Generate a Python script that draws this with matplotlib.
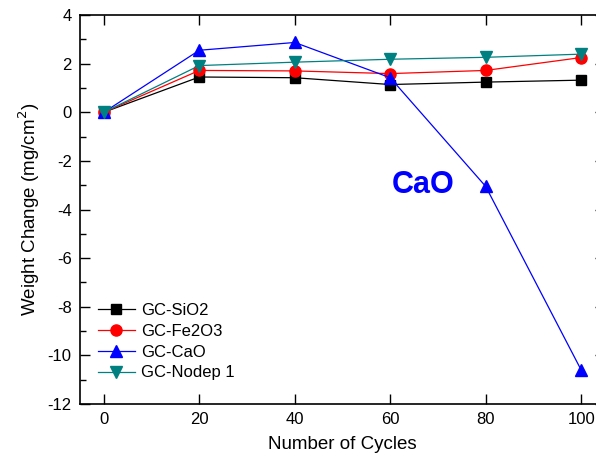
import numpy as np
import matplotlib
matplotlib.use('Agg')
import matplotlib.pyplot as plt
from matplotlib.ticker import MultipleLocator

plt.rcParams['font.family'] = ['Liberation Sans', 'DejaVu Sans']
plt.rcParams['axes.unicode_minus'] = False

# cycles and weight change (mg/cm2)
cycles = [0, 20, 40, 60, 80, 100]
sio2 = [0.0, 1.45, 1.42, 1.14, 1.24, 1.32]
fe2o3 = [0.0, 1.72, 1.70, 1.59, 1.72, 2.25]
cao = [0.0, 2.55, 2.87, 1.42, -3.05, -10.6]
nodep = [0.0, 1.92, 2.06, 2.18, 2.26, 2.39]

fig = plt.figure(figsize=(5.96, 4.57), dpi=100)
ax = fig.add_axes([80/596., 1-404/457., 525/596., 389/457.])

ax.plot(cycles, sio2, '-s', color='black', lw=0.9, ms=7, label='GC-SiO2')
ax.plot(cycles, fe2o3, '-o', color='red', lw=0.9, ms=8, label='GC-Fe2O3')
ax.plot(cycles, cao, '-^', color='blue', lw=0.9, ms=8.5, label='GC-CaO')
ax.plot(cycles, nodep, '-v', color='teal', lw=0.9, ms=8.5, label='GC-Nodep 1')

ax.text(60.4, -3.0, 'CaO', color='blue', fontsize=22, fontweight='bold',
        ha='left', va='center')

ax.set_xlim(-5, 105)
ax.set_ylim(-12, 4)
ax.set_xticks([0, 20, 40, 60, 80, 100])
ax.set_yticks(np.arange(-12, 5, 2))
ax.yaxis.set_minor_locator(MultipleLocator(1))
ax.tick_params(which='major', direction='in', length=7, width=1.0,
               top=True, right=True, labelsize=12, pad=6)
ax.tick_params(which='minor', direction='in', length=4, width=1.0,
               right=True)
for s in ax.spines.values():
    s.set_linewidth(1.2)

ax.set_xlabel('Number of Cycles', fontsize=13.5, labelpad=6)
ax.set_ylabel('Weight Change (mg/cm$^2$)', fontsize=13.5, labelpad=4)

ax.legend(loc='lower left', bbox_to_anchor=(0.015, 0.035), frameon=False,
          fontsize=12, handlelength=2.2, handletextpad=0.4,
          labelspacing=0.35, borderaxespad=0.2)

fig.savefig('out.png', dpi=100)
